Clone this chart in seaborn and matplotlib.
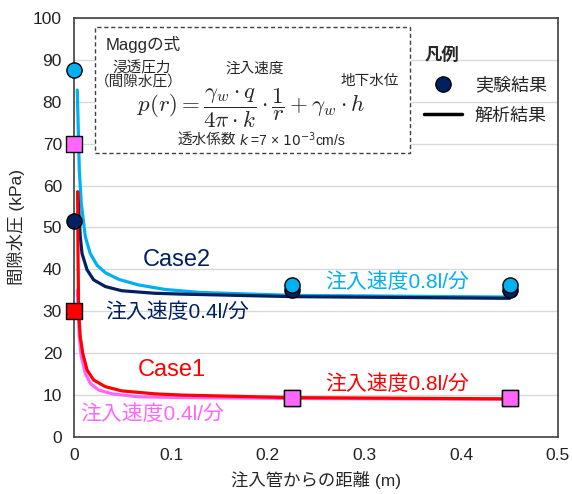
import matplotlib
matplotlib.use("Agg")
import matplotlib.pyplot as plt
from matplotlib.lines import Line2D
from matplotlib.patches import Rectangle
import pandas as pd
import seaborn as sns

# experimental points (distance from injection pipe, pore pressure)
x_exp = [0.0, 0.225, 0.45]
case2_08_exp = [87.5, 36.3, 36.2]
case2_04_exp = [51.5, 35.1, 35.0]
case1_08_exp = [30.0, 9.4, 9.4]
case1_04_exp = [70.0, 9.4, 9.4]

# analytical curves
r_c2_08 = [0.0029, 0.005, 0.007, 0.0112, 0.0163, 0.0233, 0.032, 0.046, 0.066, 0.094, 0.13, 0.225, 0.45]
p_c2_08 = [82.8, 63.7, 55.8, 47.8, 43.8, 41.0, 39.2, 37.6, 36.3, 35.2, 34.5, 33.8, 33.4]
r_c2_04 = [0.0033, 0.006, 0.0078, 0.013, 0.0198, 0.032, 0.049, 0.083, 0.111, 0.225, 0.45]
p_c2_04 = [58.5, 47.8, 43.8, 39.9, 37.5, 35.9, 34.9, 34.3, 34.1, 33.5, 33.1]
r_c1_08 = [0.0033, 0.0036, 0.0043, 0.006, 0.0085, 0.013, 0.0198, 0.032, 0.049, 0.083, 0.111, 0.225, 0.45]
p_c1_08 = [58.4, 45.0, 30.0, 23.9, 20.0, 16.0, 13.6, 12.0, 11.0, 10.3, 10.0, 9.4, 9.1]
r_c1_04 = [0.003, 0.005, 0.007, 0.0112, 0.0163, 0.025, 0.039, 0.066, 0.111, 0.225, 0.45]
p_c1_04 = [35.0, 23.9, 19.2, 15.2, 12.8, 11.2, 10.3, 9.6, 9.4, 9.2, 9.0]

NAVY = "#002060"
SKY = "#00B0F0"
RED = "#FF0000"
PINK = "#FF66FF"

sns.set_theme(style="white")
plt.rcParams["font.family"] = ["Liberation Sans", "Noto Sans CJK JP", "DejaVu Sans"]

fig = plt.figure(figsize=(5.72, 4.94), dpi=100)
ax = fig.add_axes([0.1302, 0.1154, 0.8453, 0.8482])

curves = [(r_c2_08, p_c2_08, SKY), (r_c2_04, p_c2_04, NAVY),
          (r_c1_04, p_c1_04, PINK), (r_c1_08, p_c1_08, RED)]
for r, p, c in curves:
    sns.lineplot(data=pd.DataFrame({"r": r, "p": p}), x="r", y="p", color=c,
                 linewidth=2.3, estimator=None, ax=ax, zorder=3)

points = [(case2_04_exp, NAVY, "o"), (case2_08_exp, SKY, "o"),
          (case1_08_exp, RED, "s"), (case1_04_exp, PINK, "s")]
for vals, c, m in points:
    sns.scatterplot(data=pd.DataFrame({"x": x_exp, "p": vals}), x="x", y="p", color=c,
                    marker=m, s=120, edgecolor="black", linewidth=1.0, ax=ax,
                    zorder=5, clip_on=False)

ax.set_xlim(0, 0.5)
ax.set_ylim(0, 100)
ax.set_xticks([0, 0.1, 0.2, 0.3, 0.4, 0.5], labels=["0", "0.1", "0.2", "0.3", "0.4", "0.5"])
ax.set_yticks(range(0, 101, 10))
ax.yaxis.grid(True, color="#D9D9D9", linewidth=1.0)
ax.set_axisbelow(True)
ax.tick_params(length=0, labelsize=12.5, colors="#222222")
ax.tick_params(axis="y", pad=9)
ax.tick_params(axis="x", pad=8)
for s in ax.spines.values():
    s.set_color("#404040")
    s.set_linewidth(1.2)
ax.set_xlabel("注入管からの距離 (m)", fontsize=12.5, labelpad=6)
ax.set_ylabel("間隙水圧 (kPa)", fontsize=12.5, labelpad=6)

# case labels
ax.text(0.106, 42.3, "Case2", color=NAVY, fontsize=17, ha="center", va="center")
ax.text(0.3335, 36.9, "注入速度0.8l/分", color=SKY, fontsize=15, ha="center", va="center")
ax.text(0.106, 29.7, "注入速度0.4l/分", color=NAVY, fontsize=15, ha="center", va="center")
ax.text(0.101, 16.0, "Case1", color=RED, fontsize=17, ha="center", va="center")
ax.text(0.3335, 12.6, "注入速度0.8l/分", color=RED, fontsize=15, ha="center", va="center")
ax.text(0.080, 5.4, "注入速度0.4l/分", color=PINK, fontsize=15, ha="center", va="center")

# formula box
ax.add_patch(Rectangle((0.0212, 67.8), 0.326, 30.1, facecolor="white", edgecolor="#404040",
                       linestyle=(0, (3, 2)), linewidth=1.0, zorder=4))
ax.text(0.0326, 93.6, "Maggの式", fontsize=12, ha="left", va="center", zorder=6)
ax.text(0.0698, 88.0, "浸透圧力", fontsize=10.5, ha="center", va="center", zorder=6)
ax.text(0.066, 84.8, "（間隙水圧）", fontsize=10.5, ha="center", va="center", zorder=6)
ax.text(0.1867, 88.0, "注入速度", fontsize=10.5, ha="center", va="center", zorder=6)
ax.text(0.3056, 85.0, "地下水位", fontsize=10.5, ha="center", va="center", zorder=6)
ax.text(0.183, 78.4, r"$p(r)=\dfrac{\gamma_w\cdot q}{4\pi\cdot k}\cdot\dfrac{1}{r}+\gamma_w\cdot h$",
        fontsize=16.5, ha="center", va="center", math_fontfamily="cm", zorder=6)
ax.text(0.167, 70.9, "透水係数", fontsize=10.5, ha="right", va="center", zorder=6)
ax.text(0.170, 70.9, r"$k$ =7 × $10^{-3}$cm/s", fontsize=10, ha="left",
        va="center", math_fontfamily="dejavusans", zorder=6)

# legend
handles = [Line2D([], [], marker="o", color=NAVY, markeredgecolor="black", linestyle="none",
                  markersize=11),
           Line2D([], [], color="black", linewidth=2.5)]
leg = ax.legend(handles, ["実験結果", "解析結果"], title="凡例", loc="upper left",
                bbox_to_anchor=(0.69, 0.97), frameon=False, fontsize=13,
                title_fontproperties={"size": 12.5, "weight": "bold"}, handlelength=2.1,
                handletextpad=0.7, labelspacing=0.75, alignment="left")

fig.savefig("out.png", dpi=100)
